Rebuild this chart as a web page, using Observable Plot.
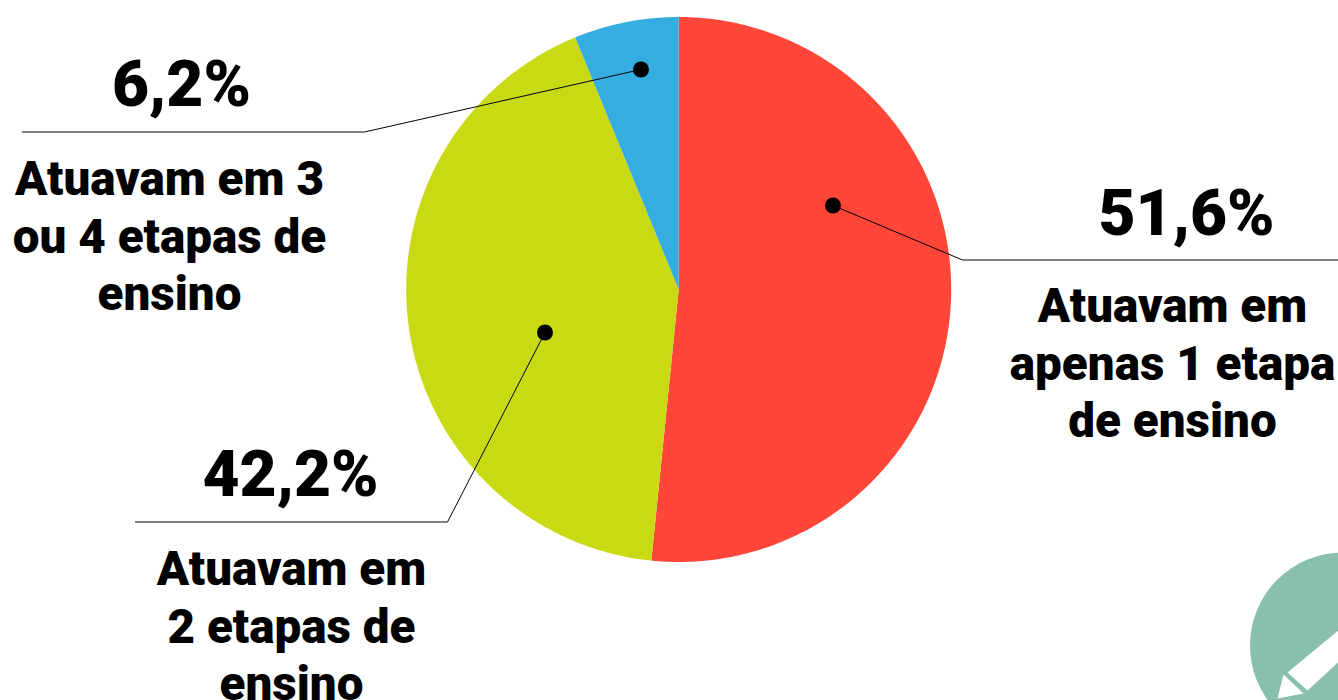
<!DOCTYPE html>
<html><head><meta charset="utf-8">
<script src="https://cdn.jsdelivr.net/npm/d3@7"></script>
<script src="https://cdn.jsdelivr.net/npm/@observablehq/plot@0.6"></script>
<style>html,body{margin:0;padding:0;background:#fff}svg{display:block}</style>
</head><body><div id="chart"></div>
<script>
const categories = ["Atuavam em\napenas 1 etapa\nde ensino", "Atuavam em\n2 etapas de\nensino", "Atuavam em 3\nou 4 etapas de\nensino"];
const shares = [51.6, 42.2, 6.2];
const shareLabels = ["51,6%", "42,2%", "6,2%"];
const colors = ["#ff4639", "#c9da14", "#36ade0"];

const W = 1338, H = 700, cx = 678.2, cy = 289, R = 272.5;
const labelAt = [[1172, 361], [291, 624], [169, 234]];
const bigAt = [[1186, 214], [290, 475], [181, 85]];
const leaders = [
  [[832.5, 205], [962, 259.5], [1338, 259.5]],
  [[544.5, 332], [447, 521.5], [135, 521.5]],
  [[640.5, 69], [364, 131.5], [22, 131.5]]
];

// slices in pie coordinates, derived from the shares
const total = d3.sum(shares);
const slices = [];
let cum = 0;
shares.forEach((v, i) => {
  const a0 = cum / total * 2 * Math.PI, a1 = (cum + v) / total * 2 * Math.PI;
  slices.push({i, x: cx, y: cy});
  d3.range(0, 241).forEach(k => {
    const a = a0 + (a1 - a0) * k / 240;
    slices.push({i, x: cx + R * Math.sin(a), y: cy - R * Math.cos(a)});
  });
  cum += v;
});

const leaderRows = leaders.flatMap((pts, i) => pts.map(([x, y]) => ({i, x, y})));
const txt = {fontFamily: "Roboto", fontWeight: 900, fill: "#000", textAnchor: "middle", lineAnchor: "middle"};

const chart = Plot.plot({
  width: W, height: H, margin: 0,
  style: {background: "#fff"},
  x: {domain: [0, W], range: [0, W], axis: null},
  y: {domain: [0, H], range: [0, H], axis: null},
  marks: [
    Plot.line(slices, {x: "x", y: "y", z: "i", fill: d => colors[d.i], stroke: null, curve: "linear"}),
    Plot.dot([0], {x: () => 1342.5, y: () => 645, r: 93, fill: "#88bfae", stroke: null}),
    Plot.line([[1287, 672], [1307, 690], [1345, 655], [1345, 624]], {x: "0", y: "1", fill: "#fff", stroke: null}),
    Plot.line([[1283, 674], [1303, 693], [1277, 698]], {x: "0", y: "1", fill: "#fff", stroke: null}),
    Plot.line(leaderRows, {x: "x", y: "y", z: "i", stroke: "#000", strokeWidth: 1}),
    Plot.dot(leaders, {x: d => d[0][0], y: d => d[0][1], r: 8, fill: "#000", stroke: null}),
    Plot.text(shareLabels, {...txt, x: (d, i) => bigAt[i][0], y: (d, i) => bigAt[i][1], text: d => d, fontSize: 64}),
    Plot.text(categories, {...txt, x: (d, i) => labelAt[i][0], y: (d, i) => labelAt[i][1], text: d => d, fontSize: 47.6, lineHeight: 1.208})
  ]
});
document.getElementById("chart").append(chart);
</script></body></html>
